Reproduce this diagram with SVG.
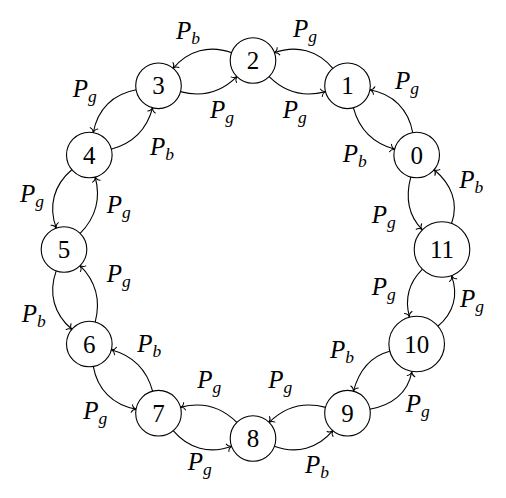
<svg xmlns="http://www.w3.org/2000/svg" width="506" height="498" viewBox="0 0 506 498">
<style>
.node circle{fill:#fff;stroke:#000;stroke-width:1.1}
.node text{font-family:'Liberation Serif','Times New Roman',Times,serif;font-size:25px;text-anchor:middle;fill:#000}
.edge{fill:none;stroke:#000;stroke-width:1.1;marker-end:url(#ah)}
.lbl{font-family:'Liberation Serif','Times New Roman',Times,serif;font-size:25px;font-style:italic;fill:#000}
.sub{font-size:17.5px}
</style>
<defs>
<marker id="ah" markerUnits="userSpaceOnUse" orient="auto" refX="0" refY="0" markerWidth="10" markerHeight="10" overflow="visible">
<path d="M-4.6,-3.9 C-3.9,-1.5 -1.6,-0.3 0,0 C-1.6,0.3 -3.9,1.5 -4.6,3.9" fill="none" stroke="#000" stroke-width="1" stroke-linecap="round"/>
</marker>
<path id="eo" d="M449.70,228.36 C457.86,205.93 452.20,184.81 433.92,169.46"/>
<path id="ei" d="M410.86,176.73 C404.90,198.98 409.80,217.30 426.09,233.59"/>
</defs>
<g id="connectors">
<path class="edge" d="M451.58,223.19 C459.15,202.38 450.88,183.69 433.92,169.46"/>
<path class="edge" d="M410.86,176.73 C405.37,197.22 407.20,214.70 422.20,229.70"/>
<g transform="rotate(30 253 249.5)">
<path class="edge" d="M451.58,223.19 C458.53,204.08 453.71,186.07 438.13,173.00"/>
<path class="edge" d="M409.43,182.05 C404.43,200.70 408.55,216.05 422.20,229.70"/>
</g>
<g transform="rotate(60 253 249.5)">
<path class="edge" d="M449.70,228.36 C457.27,207.55 455.09,187.23 438.13,173.00"/>
<path class="edge" d="M409.43,182.05 C403.94,202.54 411.09,218.59 426.09,233.59"/>
</g>
<g transform="rotate(-30 253 249.5)"><use href="#eo" class="edge"/><use href="#ei" class="edge"/></g>
<g transform="rotate(-60 253 249.5)"><use href="#eo" class="edge"/><use href="#ei" class="edge"/></g>
<g transform="rotate(-90 253 249.5)"><use href="#eo" class="edge"/><use href="#ei" class="edge"/></g>
<g transform="rotate(-120 253 249.5)"><use href="#eo" class="edge"/><use href="#ei" class="edge"/></g>
<g transform="rotate(-150 253 249.5)"><use href="#eo" class="edge"/><use href="#ei" class="edge"/></g>
<g transform="rotate(180 253 249.5)"><use href="#eo" class="edge"/><use href="#ei" class="edge"/></g>
<g transform="rotate(150 253 249.5)"><use href="#eo" class="edge"/><use href="#ei" class="edge"/></g>
<g transform="rotate(120 253 249.5)"><use href="#eo" class="edge"/><use href="#ei" class="edge"/></g>
<g transform="rotate(90 253 249.5)"><use href="#eo" class="edge"/><use href="#ei" class="edge"/></g>
</g>
<g id="labels">
<text class="lbl" x="459.3" y="188.3">P<tspan class="sub" dy="5">b</tspan></text>
<text class="lbl" x="371.7" y="223.3">P<tspan class="sub" dy="5">g</tspan></text>
<text class="lbl" x="395" y="89.3">P<tspan class="sub" dy="5">g</tspan></text>
<text class="lbl" x="342.7" y="161.7">P<tspan class="sub" dy="5">b</tspan></text>
<text class="lbl" x="293" y="37">P<tspan class="sub" dy="5">g</tspan></text>
<text class="lbl" x="282.7" y="118.3">P<tspan class="sub" dy="5">g</tspan></text>
<text class="lbl" x="176" y="38.5">P<tspan class="sub" dy="5">b</tspan></text>
<text class="lbl" x="210" y="118.3">P<tspan class="sub" dy="5">g</tspan></text>
<text class="lbl" x="72.7" y="96.7">P<tspan class="sub" dy="5">g</tspan></text>
<text class="lbl" x="150" y="155">P<tspan class="sub" dy="5">b</tspan></text>
<text class="lbl" x="20" y="201.7">P<tspan class="sub" dy="5">g</tspan></text>
<text class="lbl" x="106.7" y="213.3">P<tspan class="sub" dy="5">g</tspan></text>
<text class="lbl" x="21.7" y="321.7">P<tspan class="sub" dy="5">b</tspan></text>
<text class="lbl" x="106.7" y="281.7">P<tspan class="sub" dy="5">g</tspan></text>
<text class="lbl" x="83.3" y="419.3">P<tspan class="sub" dy="5">g</tspan></text>
<text class="lbl" x="137.3" y="351.7">P<tspan class="sub" dy="5">b</tspan></text>
<text class="lbl" x="187.7" y="470">P<tspan class="sub" dy="5">g</tspan></text>
<text class="lbl" x="197.3" y="388.3">P<tspan class="sub" dy="5">g</tspan></text>
<text class="lbl" x="305" y="473.3">P<tspan class="sub" dy="5">b</tspan></text>
<text class="lbl" x="268.3" y="388.3">P<tspan class="sub" dy="5">g</tspan></text>
<text class="lbl" x="405.7" y="411.7">P<tspan class="sub" dy="5">g</tspan></text>
<text class="lbl" x="330" y="358.3">P<tspan class="sub" dy="5">b</tspan></text>
<text class="lbl" x="460" y="306.7">P<tspan class="sub" dy="5">g</tspan></text>
<text class="lbl" x="371.7" y="295">P<tspan class="sub" dy="5">g</tspan></text>
</g>
<g id="n0" class="node"><circle cx="416.68" cy="155" r="22.8"/><text x="416.68" y="163.5">0</text></g>
<g id="n1" class="node"><circle cx="347.5" cy="85.82" r="22.8"/><text x="347.5" y="94.3">1</text></g>
<g id="n2" class="node"><circle cx="253" cy="60.5" r="22.8"/><text x="253" y="69">2</text></g>
<g id="n3" class="node"><circle cx="158.5" cy="85.82" r="22.8"/><text x="158.5" y="94.3">3</text></g>
<g id="n4" class="node"><circle cx="89.32" cy="155" r="22.8"/><text x="89.32" y="163.5">4</text></g>
<g id="n5" class="node"><circle cx="64" cy="249.5" r="22.8"/><text x="64" y="258">5</text></g>
<g id="n6" class="node"><circle cx="89.32" cy="344" r="22.8"/><text x="89.32" y="352.5">6</text></g>
<g id="n7" class="node"><circle cx="158.5" cy="413.18" r="22.8"/><text x="158.5" y="421.7">7</text></g>
<g id="n8" class="node"><circle cx="253" cy="438.5" r="22.8"/><text x="253" y="447">8</text></g>
<g id="n9" class="node"><circle cx="347.5" cy="413.18" r="22.8"/><text x="347.5" y="421.7">9</text></g>
<g id="n10" class="node"><circle cx="416.68" cy="344" r="27.8"/><text x="416.68" y="352.5">10</text></g>
<g id="n11" class="node"><circle cx="442" cy="249.5" r="27.8"/><text x="442" y="258">11</text></g>
</svg>
